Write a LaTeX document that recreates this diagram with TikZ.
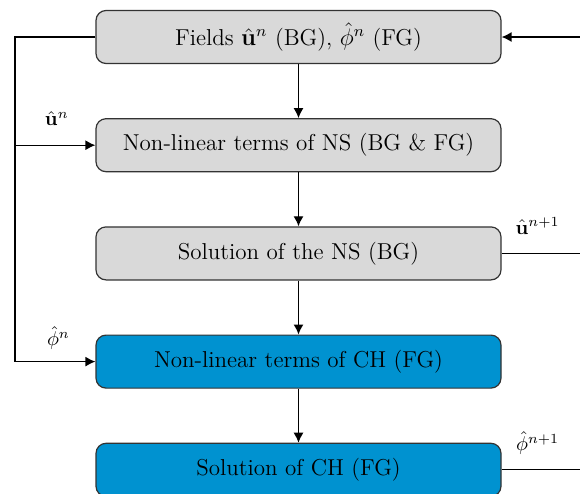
\documentclass[tikz,border=0pt]{standalone}
\usepackage{amsmath, amssymb}
\usepackage{xcolor}
\usetikzlibrary{arrows.meta, positioning}
\definecolor{boxgray}{RGB}{217,217,217}
\definecolor{boxblue}{RGB}{0,146,208}

\begin{document}
\begin{tikzpicture}[x=1pt,y=1pt,
  stepbox/.style={draw=black!80,line width=0.6pt,rounded corners=5pt,
    minimum width=202.5pt,minimum height=26.5pt,font=\fontsize{11.5}{13}\selectfont},
  graybox/.style={stepbox,fill=boxgray},
  bluebox/.style={stepbox,fill=boxblue},
  flow/.style={line width=0.65pt,-{Latex[length=5pt,width=5pt]}},
  link/.style={line width=0.65pt},
  node distance=27pt]
\useasboundingbox (0,0) rectangle (290,-247);
% Boxes
\node[graybox] (fields) at (149.25,-18.5) {Fields $\hat{\mathbf{u}}^n$ (BG), $\hat{\phi}^n$ (FG)};
\node[graybox, below=of fields] (nlns) {Non-linear terms of NS (BG \& FG)};
\node[graybox, below=of nlns] (solns) {Solution of the NS (BG)};
\node[bluebox, below=of solns] (nlch) {Non-linear terms of CH (FG)};
\node[bluebox, below=of nlch] (solch) {Solution of CH (FG)};
% Main chain
\draw[flow] (fields) -- (nlns);
\draw[flow] (nlns) -- (solns);
\draw[flow] (solns) -- (nlch);
\draw[flow] (nlch) -- (solch);
% Feedback on the left
\coordinate (lft) at (7.5,0);
\draw[link] (fields.west) -- (lft |- fields.west) -- (lft |- nlch.west);
\draw[flow] (lft |- nlns.west) -- (nlns.west)
  node[pos=0.52,above=6pt]{$\hat{\mathbf{u}}^n$};
\draw[flow] (lft |- nlch.west) -- (nlch.west)
  node[pos=0.54,above=2.5pt]{$\hat{\phi}^n$};
% Outputs on the right
\coordinate (rgt) at (290,0);
\draw[flow] (rgt |- fields.east) -- (fields.east);
\draw[link] (solns.east) -- (rgt |- solns.east)
  node[pos=0.46,above=6pt]{$\hat{\mathbf{u}}^{n+1}$};
\draw[link] (solch.east) -- (rgt |- solch.east)
  node[pos=0.46,above=4pt]{$\hat{\phi}^{n+1}$};
\end{tikzpicture}
\end{document}
